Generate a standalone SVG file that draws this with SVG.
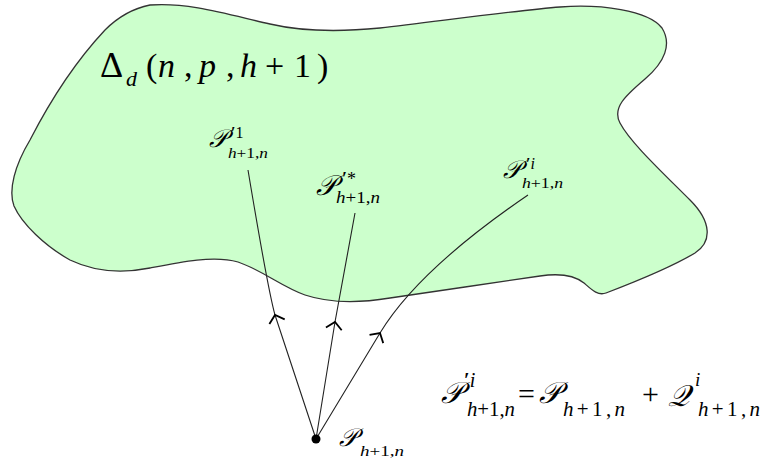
<svg xmlns="http://www.w3.org/2000/svg" width="767" height="463" viewBox="0 0 767 463">
<style>
.region{fill:#ccffcc;stroke:#333;stroke-width:1.3}
.conn{fill:none;stroke:#222;stroke-width:1.1;marker-mid:url(#chev)}
.t{font-family:'Liberation Serif','Times New Roman',serif;fill:#000}
.cal{font-style:italic}
.it{font-style:italic}
.pr{font-weight:bold}
</style>
<defs>
<marker id="chev" markerUnits="userSpaceOnUse" viewBox="-10 -9 12 18" markerWidth="12" markerHeight="18" refX="0" refY="0" orient="auto">
<path d="M-7,-8 L0,0 L-7,8" fill="none" stroke="#000" stroke-width="1.8"/>
</marker>
</defs>
<g id="region">
<path class="region" d="M150,5 C190,2 230,15 270,24 C300,31 340,32 380,28 C440,21 520,10 560,7 C600,4 648,10 662,28 C672,44 665,62 645,79 C625,96 612,108 620,123 C630,142 660,170 690,200 C712,222 712,242 695,253 C675,265 640,280 606,293 C598,296 592,290 584,283 C574,275 560,273 540,276 C500,282 430,292 390,298 C360,303 332,304 305,295 C282,287 262,270 238,262 C214,255 180,262 150,268 C120,274 95,272 70,260 C45,246 22,224 14,206 C8,190 15,165 30,140 C48,105 75,62 105,30 C120,15 135,8 150,5 Z"/>
<text class="t" x="100" y="77" font-size="36">Δ</text>
<text class="t it" x="126" y="86" font-size="22">d</text>
<text class="t" y="77" font-size="34"><tspan x="146">(</tspan><tspan x="158" class="it">n</tspan><tspan x="184">,</tspan><tspan x="199" class="it">p</tspan><tspan x="226">,</tspan><tspan x="240" class="it">h</tspan><tspan x="265">+</tspan><tspan x="294">1</tspan><tspan x="317">)</tspan></text>
</g>
<g id="connectors">
<path class="conn" d="M316,439 L275,315 C268,290 258,230 248,170"/>
<path class="conn" d="M316,439 L335,322 L355,213"/>
<path class="conn" d="M316,439 L380,333 C400,300 440,255 528,195"/>
</g>
<g id="node-p1">
<text x="209" y="147" font-size="25" class="t cal">𝒫</text>
<text x="231" y="138" font-size="16" class="t"><tspan class="pr">′</tspan>1</text>
<text x="228" y="158" font-size="14" class="t" textLength="40" lengthAdjust="spacingAndGlyphs"><tspan class="it">h</tspan>+1,<tspan class="it">n</tspan></text>
</g>
<g id="node-pstar">
<text x="316" y="195" font-size="28" class="t cal">𝒫</text>
<text x="342" y="185" font-size="18" class="t"><tspan class="pr">′</tspan>*</text>
<text x="336" y="203" font-size="16" class="t" textLength="44" lengthAdjust="spacingAndGlyphs"><tspan class="it">h</tspan>+1,<tspan class="it">n</tspan></text>
</g>
<g id="node-pi">
<text x="503" y="178" font-size="25" class="t cal">𝒫</text>
<text x="526" y="169" font-size="16" class="t"><tspan class="pr">′</tspan><tspan class="it">i</tspan></text>
<text x="522" y="188" font-size="14" class="t" textLength="41" lengthAdjust="spacingAndGlyphs"><tspan class="it">h</tspan>+1,<tspan class="it">n</tspan></text>
</g>
<g id="node-p">
<circle cx="316" cy="439" r="4.5" fill="#000"/>
<text x="339" y="446" font-size="25" class="t cal">𝒫</text>
<text x="360" y="456" font-size="15" class="t" textLength="44" lengthAdjust="spacingAndGlyphs"><tspan class="it">h</tspan>+1,<tspan class="it">n</tspan></text>
</g>
<g id="equation">
<text x="441" y="403" font-size="30" class="t cal">𝒫</text>
<text x="464" y="387" font-size="20" class="t"><tspan class="pr">′</tspan><tspan class="it">i</tspan></text>
<text x="467" y="416" font-size="20" class="t" textLength="48" lengthAdjust="spacingAndGlyphs"><tspan class="it">h</tspan>+1,<tspan class="it">n</tspan></text>
<text x="518" y="404" font-size="30" class="t">=</text>
<text x="539" y="403" font-size="30" class="t cal">𝒫</text>
<text x="563" y="416" font-size="21" class="t" textLength="62" lengthAdjust="spacing"><tspan class="it">h</tspan>+1,<tspan class="it">n</tspan></text>
<text x="642" y="404" font-size="30" class="t">+</text>
<text x="668" y="406" font-size="30" class="t cal">𝒬</text>
<text x="695" y="386" font-size="19" class="t it">i</text>
<text x="698" y="416" font-size="21" class="t" textLength="62" lengthAdjust="spacing"><tspan class="it">h</tspan>+1,<tspan class="it">n</tspan></text>
</g>
</svg>
